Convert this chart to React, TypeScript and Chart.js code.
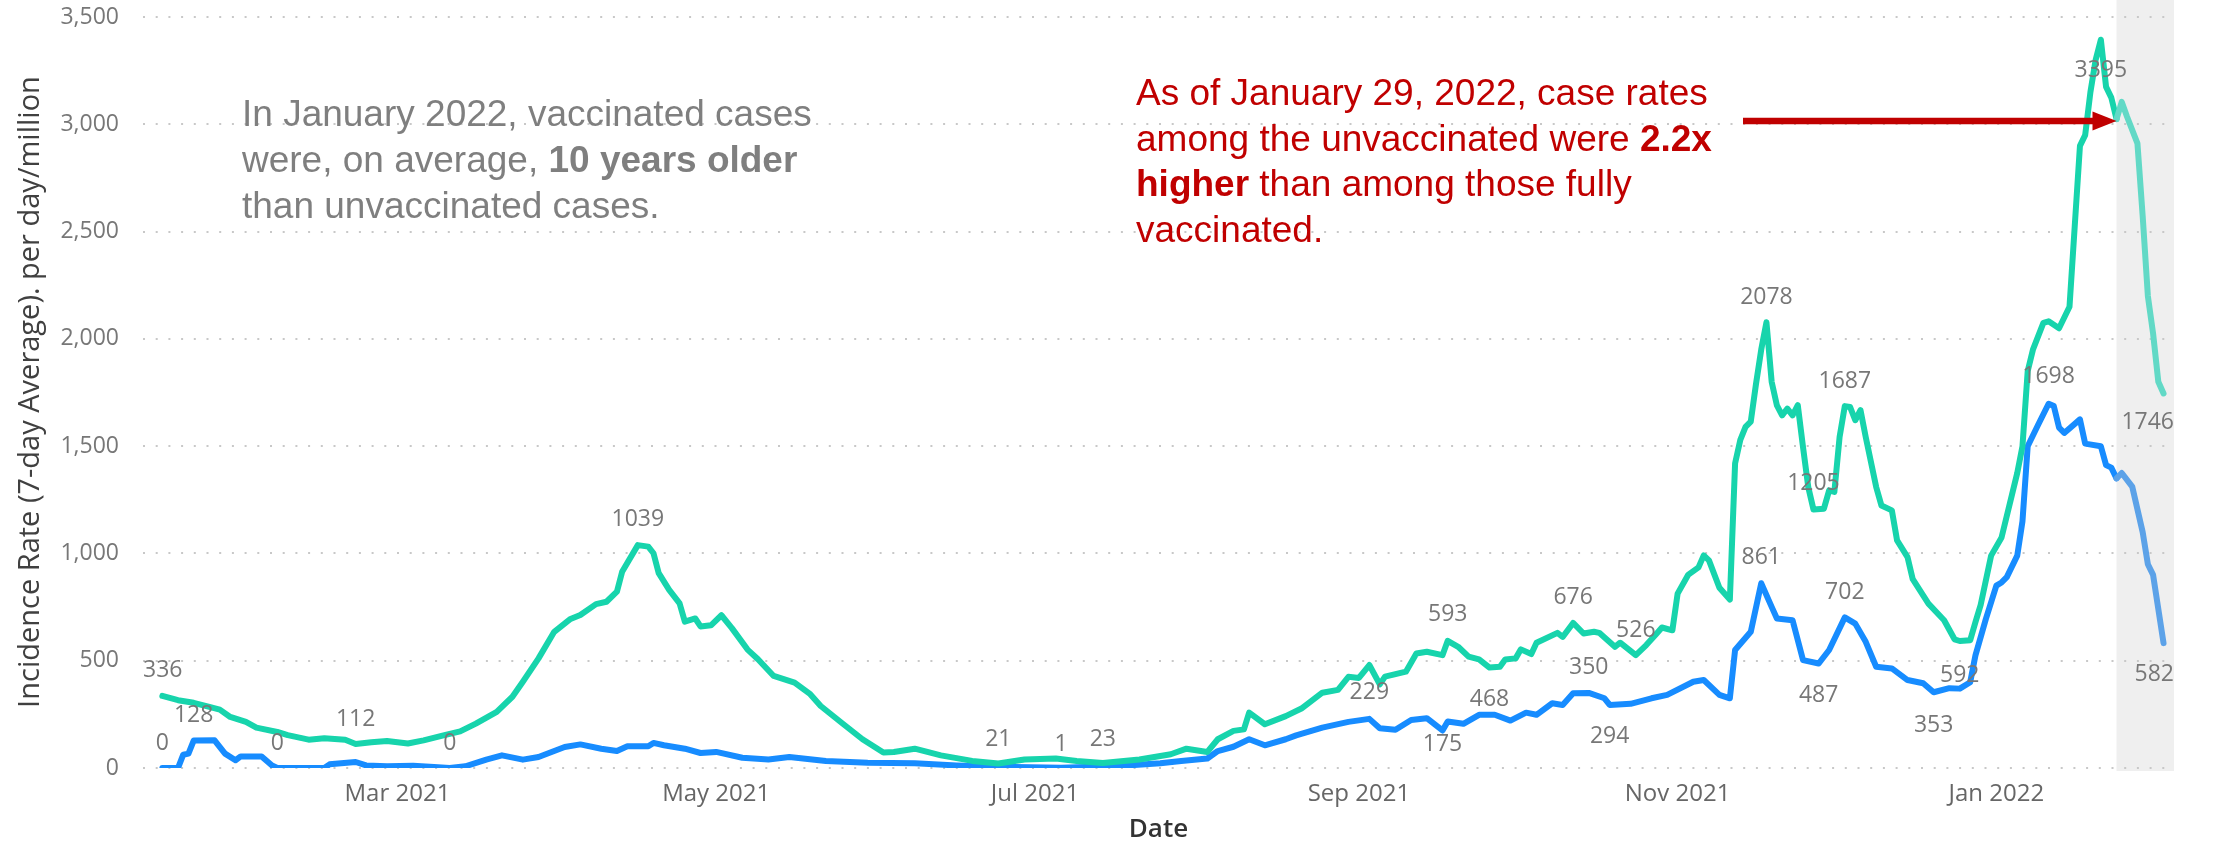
import React, { useEffect, useRef } from 'react';
import { Chart, registerables } from 'chart.js';

Chart.register(...registerables);

// ---------- data ----------
const unvaccinatedDates = [
  '2021-01-15','2021-01-18','2021-01-21','2021-01-24','2021-01-26','2021-01-28','2021-01-31','2021-02-02','2021-02-06','2021-02-08',
  '2021-02-12','2021-02-15','2021-02-19','2021-02-21','2021-02-24','2021-02-27','2021-03-03','2021-03-06','2021-03-10','2021-03-13',
  '2021-03-16','2021-03-20','2021-03-23','2021-03-25','2021-03-28','2021-03-31','2021-04-03','2021-04-05','2021-04-08','2021-04-10',
  '2021-04-12','2021-04-13','2021-04-16','2021-04-18','2021-04-19','2021-04-20','2021-04-22','2021-04-24','2021-04-25','2021-04-27',
  '2021-04-28','2021-04-30','2021-05-02','2021-05-04','2021-05-07','2021-05-09','2021-05-12','2021-05-16','2021-05-19','2021-05-21',
  '2021-05-25','2021-05-29','2021-06-02','2021-06-04','2021-06-08','2021-06-13','2021-06-19','2021-06-24','2021-06-29','2021-07-05',
  '2021-07-09','2021-07-14','2021-07-21','2021-07-27','2021-07-30','2021-08-03','2021-08-05','2021-08-08','2021-08-10','2021-08-11',
  '2021-08-14','2021-08-18','2021-08-21','2021-08-25','2021-08-28','2021-08-30','2021-09-01','2021-09-03','2021-09-05','2021-09-06',
  '2021-09-10','2021-09-12','2021-09-14','2021-09-17','2021-09-18','2021-09-20','2021-09-22','2021-09-24','2021-09-26','2021-09-28',
  '2021-09-29','2021-10-01','2021-10-02','2021-10-04','2021-10-05','2021-10-09','2021-10-10','2021-10-12','2021-10-14','2021-10-16',
  '2021-10-17','2021-10-20','2021-10-21','2021-10-24','2021-10-26','2021-10-28','2021-10-29','2021-10-31','2021-11-01','2021-11-03',
  '2021-11-05','2021-11-06','2021-11-07','2021-11-09','2021-11-11','2021-11-12','2021-11-13','2021-11-14','2021-11-15','2021-11-16',
  '2021-11-17','2021-11-18','2021-11-19','2021-11-20','2021-11-21','2021-11-22','2021-11-23','2021-11-24','2021-11-25','2021-11-26',
  '2021-11-27','2021-11-29','2021-11-30','2021-12-01','2021-12-02','2021-12-03','2021-12-04','2021-12-05','2021-12-06','2021-12-07',
  '2021-12-09','2021-12-10','2021-12-12','2021-12-13','2021-12-15','2021-12-16','2021-12-19','2021-12-22','2021-12-24','2021-12-25',
  '2021-12-27','2021-12-28','2021-12-29','2021-12-31','2022-01-02','2022-01-04','2022-01-05','2022-01-06','2022-01-07','2022-01-08',
  '2022-01-10','2022-01-11','2022-01-13','2022-01-15','2022-01-16','2022-01-17','2022-01-18','2022-01-19','2022-01-20','2022-01-21',
  '2022-01-22','2022-01-23','2022-01-24','2022-01-25','2022-01-26','2022-01-28','2022-01-29','2022-01-30','2022-01-31','2022-02-01',
  '2022-02-02',
];
const unvaccinatedValues = [
  336, 316, 304, 285, 272, 238, 215, 188, 168, 153,
  132, 139, 132, 112, 120, 126, 114, 129, 153, 171,
  207, 262, 332, 402, 511, 635, 693, 713, 764, 775,
  822, 915, 1039, 1032, 1001, 908, 830, 767, 682, 697,
  660, 665, 712, 652, 552, 507, 429, 398, 344, 289,
  211, 134, 72, 75, 90, 59, 33, 21, 40, 44,
  33, 23, 40, 64, 90, 75, 134, 173, 180, 258,
  204, 242, 277, 351, 364, 425, 420, 480, 390, 426,
  449, 534, 542, 526, 593, 565, 519, 506, 468, 472,
  506, 511, 553, 531, 584, 630, 611, 676, 627, 635,
  630, 565, 584, 526, 573, 627, 655, 642, 813, 900,
  935, 991, 968, 840, 785, 1420, 1530, 1590, 1615, 1790,
  1950, 2078, 1800, 1690, 1644, 1675, 1644, 1691, 1496, 1310,
  1205, 1209, 1294, 1287, 1543, 1687, 1683, 1621, 1668, 1543,
  1310, 1224, 1201, 1061, 983, 880, 766, 689, 600, 592,
  596, 680, 760, 990, 1075, 1275, 1375, 1500, 1850, 1950,
  2075, 2082, 2050, 2150, 2525, 2900, 2950, 3150, 3300, 3395,
  3175, 3125, 3025, 3105, 3037, 2912, 2575, 2200, 2025, 1800,
  1746,
];

const vaccinatedDates = [
  '2021-01-15','2021-01-18','2021-01-19','2021-01-20','2021-01-21','2021-01-25','2021-01-27','2021-01-29','2021-01-30','2021-02-03',
  '2021-02-05','2021-02-06','2021-02-15','2021-02-16','2021-02-21','2021-02-23','2021-02-27','2021-03-04','2021-03-08','2021-03-11',
  '2021-03-14','2021-03-18','2021-03-21','2021-03-25','2021-03-28','2021-04-02','2021-04-05','2021-04-09','2021-04-12','2021-04-14',
  '2021-04-18','2021-04-19','2021-04-21','2021-04-25','2021-04-28','2021-05-01','2021-05-06','2021-05-11','2021-05-15','2021-05-22',
  '2021-05-30','2021-06-08','2021-06-16','2021-06-24','2021-07-06','2021-07-17','2021-07-25','2021-07-29','2021-08-03','2021-08-05',
  '2021-08-08','2021-08-11','2021-08-14','2021-08-18','2021-08-20','2021-08-25','2021-08-30','2021-09-03','2021-09-05','2021-09-08',
  '2021-09-11','2021-09-14','2021-09-17','2021-09-18','2021-09-21','2021-09-24','2021-09-27','2021-09-30','2021-10-03','2021-10-05',
  '2021-10-08','2021-10-10','2021-10-12','2021-10-15','2021-10-18','2021-10-19','2021-10-23','2021-10-27','2021-10-30','2021-11-04',
  '2021-11-06','2021-11-09','2021-11-11','2021-11-12','2021-11-15','2021-11-17','2021-11-19','2021-11-20','2021-11-23','2021-11-25',
  '2021-11-28','2021-11-30','2021-12-03','2021-12-05','2021-12-07','2021-12-09','2021-12-12','2021-12-15','2021-12-18','2021-12-20',
  '2021-12-23','2021-12-25','2021-12-27','2021-12-28','2021-12-30','2022-01-01','2022-01-02','2022-01-03','2022-01-05','2022-01-06',
  '2022-01-07','2022-01-09','2022-01-11','2022-01-12','2022-01-13','2022-01-14','2022-01-17','2022-01-18','2022-01-21','2022-01-22',
  '2022-01-23','2022-01-24','2022-01-25','2022-01-27','2022-01-29','2022-01-30','2022-01-31','2022-02-02',
];
const vaccinatedValues = [
  0, 0, 62, 67, 128, 129, 67, 36, 54, 54,
  12, 0, 0, 17, 28, 12, 8, 11, 5, 0,
  8, 39, 59, 39, 51, 98, 110, 90, 79, 101,
  101, 117, 106, 90, 70, 75, 48, 40, 51, 33,
  25, 22, 12, 6, 1, 9, 22, 33, 44, 79,
  99, 134, 106, 134, 152, 188, 215, 229, 185, 178,
  224, 232, 175, 217, 206, 248, 248, 221, 258, 248,
  302, 294, 348, 350, 325, 294, 299, 325, 341, 402,
  410, 341, 325, 550, 635, 861, 751, 697, 689, 503,
  487, 550, 702, 673, 588, 472, 464, 410, 395, 353,
  372, 370, 400, 525, 695, 850, 865, 890, 990, 1150,
  1500, 1600, 1698, 1687, 1587, 1562, 1625, 1512, 1500, 1412,
  1400, 1350, 1375, 1312, 1100, 950, 900, 582,
];

// points that carry a value label in the reference
const unvaccinatedLabelDates = [
  '2021-01-15','2021-02-21','2021-04-16','2021-06-24','2021-07-14','2021-09-18','2021-09-26','2021-10-12',
  '2021-10-24','2021-11-18','2021-11-27','2021-12-03','2021-12-25','2022-01-21','2022-02-02',
];
const unvaccinatedLabelOffsets = [-25, -25, -26, -24, -24, -26, 32, -26, -25, -25, -26, -25, 34, 31, 29];
const vaccinatedLabelDates = [
  '2021-01-15','2021-01-21','2021-02-06','2021-03-11','2021-07-06','2021-09-03','2021-09-17','2021-10-15',
  '2021-10-19','2021-11-17','2021-11-28','2021-12-03','2021-12-20','2022-01-11','2022-02-02',
];
const vaccinatedLabelOffsets = [-25, -25, -25, -25, -23, -26, 14, -25, 32, -26, 32, -25, 33, -27, 31];

const xTickDates = ['2021-03-01', '2021-05-01', '2021-07-01', '2021-09-01', '2021-11-01', '2022-01-01'];
const xTickLabels = ['Mar 2021', 'May 2021', 'Jul 2021', 'Sep 2021', 'Nov 2021', 'Jan 2022'];
const yTickValues = [0, 500, 1000, 1500, 2000, 2500, 3000, 3500];

const yAxisTitle = 'Incidence Rate (7-day Average). per day/million';
const xAxisTitle = 'Date';

const shadeStartDate = '2022-01-24';
const arrowTargetDate = '2022-01-24';

// ---------- layout / style ----------
const W = 2237;
const H = 845;
const PLOT_LEFT = 143;
const PLOT_RIGHT = 2174;
const PLOT_BOTTOM = 768;
const X_MIN = 10.3;
const X_MAX = 399.0;
const Y_MAX = 3580;

const TEAL = '#17D4AC';
const TEAL_FADED = '#62D9C6';
const BLUE = '#178CFF';
const BLUE_FADED = '#5CA2E8';
const AXIS_FONT = '"Open Sans", "Segoe UI", sans-serif';
const NOTE_FONT = '"Liberation Sans", Arial, sans-serif';

const DAY0 = Date.UTC(2021, 0, 1);
const dayOf = (s: string) => {
  const [y, m, d] = s.split('-').map(Number);
  return (Date.UTC(y, m - 1, d) - DAY0) / 86400000;
};

const greyNote: [string, boolean][][] = [
  [['In January 2022, vaccinated cases', false]],
  [['were, on average, ', false], ['10 years older', true]],
  [['than unvaccinated cases.', false]],
];
const redNote: [string, boolean][][] = [
  [['As of January 29, 2022, case rates', false]],
  [['among the unvaccinated were ', false], ['2.2x', true]],
  [['higher', true], [' than among those fully', false]],
  [['vaccinated.', false]],
];

function drawRich(ctx: CanvasRenderingContext2D, lines: [string, boolean][][], x: number, y0: number, gap: number, size: number, color: string) {
  ctx.fillStyle = color;
  ctx.textAlign = 'left';
  ctx.textBaseline = 'alphabetic';
  lines.forEach((parts, li) => {
    let cx = x;
    for (const [text, bold] of parts) {
      ctx.font = `${bold ? 'bold ' : ''}${size}px ${NOTE_FONT}`;
      ctx.fillText(text, cx, y0 + li * gap);
      cx += ctx.measureText(text).width;
    }
  });
}

export default function App() {
  const canvasRef = useRef<HTMLCanvasElement | null>(null);

  useEffect(() => {
    document.body.style.margin = '0';
    const canvas = canvasRef.current;
    if (!canvas) return;
    const shadeDay = dayOf(shadeStartDate);

    const shadePlugin = {
      id: 'shade',
      beforeDraw(chart: any) {
        const { ctx, chartArea, scales } = chart;
        const x0 = scales.x.getPixelForValue(shadeDay);
        ctx.save();
        ctx.fillStyle = '#EFEFEF';
        ctx.fillRect(x0, 0, chartArea.right - x0, chartArea.bottom + 3);
        ctx.restore();
      },
    };

    const labelPlugin = {
      id: 'valueLabels',
      afterDatasetsDraw(chart: any) {
        const { ctx, chartArea, scales } = chart;
        ctx.save();
        ctx.font = `23px ${AXIS_FONT}`;
        ctx.fillStyle = '#777777';
        ctx.textAlign = 'center';
        ctx.textBaseline = 'middle';
        const draw = (dates: string[], values: number[], labelDates: string[], offsets: number[]) => {
          labelDates.forEach((d, k) => {
            const i = dates.indexOf(d);
            if (i < 0) return;
            const v = values[i];
            const text = String(v);
            const w = ctx.measureText(text).width;
            let px = scales.x.getPixelForValue(dayOf(d));
            px = Math.min(Math.max(px, chartArea.left + w / 2), chartArea.right - w / 2);
            const py = scales.y.getPixelForValue(v) + offsets[k];
            ctx.fillText(text, px, py);
          });
        };
        draw(unvaccinatedDates, unvaccinatedValues, unvaccinatedLabelDates, unvaccinatedLabelOffsets);
        draw(vaccinatedDates, vaccinatedValues, vaccinatedLabelDates, vaccinatedLabelOffsets);
        ctx.restore();
      },
    };

    const notePlugin = {
      id: 'notes',
      afterDraw(chart: any) {
        const { ctx, scales } = chart;
        ctx.save();
        // y-axis title
        ctx.save();
        ctx.translate(31, 392);
        ctx.rotate(-Math.PI / 2);
        ctx.font = `29px ${AXIS_FONT}`;
        ctx.fillStyle = '#404040';
        ctx.textAlign = 'center';
        ctx.textBaseline = 'middle';
        ctx.fillText(yAxisTitle, 0, 0);
        ctx.restore();

        drawRich(ctx, greyNote, 242, 126, 46, 37, '#7F7F7F');
        drawRich(ctx, redNote, 1136, 105, 45.5, 37, '#C00000');
        // arrow to the unvaccinated line at the start of the shaded period
        const i = unvaccinatedDates.indexOf(arrowTargetDate);
        const tipX = scales.x.getPixelForValue(dayOf(arrowTargetDate));
        const tipY = scales.y.getPixelForValue(unvaccinatedValues[i]) + 2;
        const tailX = 1743;
        const headLen = 24;
        ctx.strokeStyle = '#C00000';
        ctx.fillStyle = '#C00000';
        ctx.lineWidth = 6.5;
        ctx.beginPath();
        ctx.moveTo(tailX, tipY);
        ctx.lineTo(tipX - headLen + 2, tipY);
        ctx.stroke();
        ctx.beginPath();
        ctx.moveTo(tipX, tipY);
        ctx.lineTo(tipX - headLen, tipY - 9.5);
        ctx.lineTo(tipX - headLen, tipY + 9.5);
        ctx.closePath();
        ctx.fill();
        ctx.restore();
      },
    };

    const segColor = (solid: string, faded: string) => (ctx: any) =>
      ctx.p0.parsed.x >= shadeDay ? faded : solid;

    const chart = new Chart(canvas, {
      type: 'line',
      data: {
        datasets: [
          {
            label: 'Unvaccinated',
            data: unvaccinatedDates.map((d, i) => ({ x: dayOf(d), y: unvaccinatedValues[i] })),
            borderColor: TEAL,
            borderWidth: 6,
            pointRadius: 0,
            tension: 0,
            borderJoinStyle: 'round',
            borderCapStyle: 'round',
            segment: { borderColor: segColor(TEAL, TEAL_FADED) },
          },
          {
            label: 'Vaccinated',
            data: vaccinatedDates.map((d, i) => ({ x: dayOf(d), y: vaccinatedValues[i] })),
            borderColor: BLUE,
            borderWidth: 6,
            pointRadius: 0,
            tension: 0,
            borderJoinStyle: 'round',
            borderCapStyle: 'round',
            segment: { borderColor: segColor(BLUE, BLUE_FADED) },
          },
        ],
      },
      options: {
        responsive: false,
        animation: false,
        events: [],
        layout: { padding: { left: 0, top: 0, right: W - PLOT_RIGHT, bottom: 0 } },
        plugins: {
          legend: { display: false },
          tooltip: { enabled: false },
          title: { display: false },
        },
        scales: {
          x: {
            type: 'linear',
            min: X_MIN,
            max: X_MAX,
            afterBuildTicks: (s: any) => {
              s.ticks = xTickDates.map((d) => ({ value: dayOf(d) }));
            },
            afterFit: (s: any) => {
              s.height = H - PLOT_BOTTOM;
              s.paddingLeft = 0;
              s.paddingRight = 0;
            },
            ticks: {
              autoSkip: false,
              maxRotation: 0,
              padding: 12,
              color: '#666666',
              font: { family: AXIS_FONT, size: 24 },
              callback: (_v: any, i: number) => xTickLabels[i],
            },
            grid: { display: false, drawTicks: false },
            border: { display: false },
            title: {
              display: true,
              text: xAxisTitle,
              color: '#333333',
              font: { family: AXIS_FONT, size: 26, weight: '600' },
              padding: { top: 0, bottom: 0 },
            },
          },
          y: {
            min: 0,
            max: Y_MAX,
            afterBuildTicks: (s: any) => {
              s.ticks = yTickValues.map((v) => ({ value: v }));
            },
            afterFit: (s: any) => {
              s.width = PLOT_LEFT;
              s.paddingTop = 0;
              s.paddingBottom = 0;
            },
            ticks: {
              padding: 24,
              color: '#777777',
              font: { family: AXIS_FONT, size: 23 },
              callback: (v: any) => Number(v).toLocaleString('en-US'),
            },
            grid: { color: '#C8C8C8', lineWidth: 2, drawTicks: false },
            border: { display: false, dash: [2, 10.7] },
            title: { display: false },
          },
        },
      },
      plugins: [shadePlugin, labelPlugin, notePlugin],
    } as any);

    return () => chart.destroy();
  }, []);

  return (
    <div style={{ position: 'absolute', left: 0, top: 0, width: W, height: H, background: '#fff' }}>
      <canvas ref={canvasRef} width={W} height={H} style={{ display: 'block', width: W, height: H }} />
    </div>
  );
}
